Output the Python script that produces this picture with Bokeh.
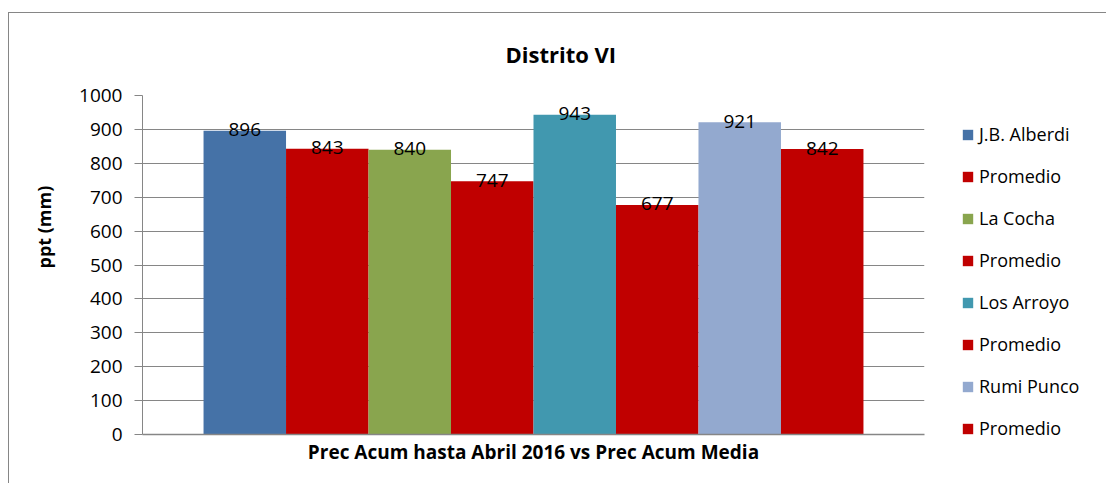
from bokeh.plotting import figure
from bokeh.models import Range1d, Legend, LegendItem, Title, FixedTicker
from bokeh.core.properties import value
from bokeh.embed import file_html
from bokeh.resources import INLINE

chart_title = "Distrito VI"
y_label = "ppt (mm)"
x_label = "Prec Acum hasta Abril 2016 vs Prec Acum Media"
series = ["J.B. Alberdi", "Promedio", "La Cocha", "Promedio",
          "Los Arroyo", "Promedio", "Rumi Punco", "Promedio"]
values = [896, 843, 840, 747, 943, 677, 921, 842]
colors = ["#4572A7", "#C00000", "#89A54E", "#C00000",
          "#4198AF", "#C00000", "#93A9CF", "#C00000"]
y_ticks = [0, 100, 200, 300, 400, 500, 600, 700, 800, 900, 1000]

FONT = "Open Sans"
positions = list(range(len(values)))
gap = 0.74

p = figure(frame_width=782, frame_height=339, output_backend="svg", toolbar_location=None,
           x_range=Range1d(-0.5 - gap, len(values) - 0.5 + gap),
           y_range=Range1d(0, 1000),
           min_border_left=132, min_border_right=175, min_border_top=82,
           min_border_bottom=49, outline_line_color=None)
p.styles = {"border-top": "1px solid #868686", "border-left": "1px solid #868686",
            "margin-top": "12px", "margin-left": "8px"}

items = []
for i, (name, v, c) in enumerate(zip(series, values, colors)):
    r = p.vbar(x=[positions[i]], top=[v], width=1.0, bottom=0,
               fill_color=c, line_color=None)
    items.append(LegendItem(label=name, renderers=[r]))

p.text(x=positions, y=values, text=[str(v) for v in values],
       text_align="center", text_baseline="alphabetic", y_offset=-1,
       text_font=value(FONT), text_font_size="19px", text_color="#000000")

# axes
p.yaxis.ticker = FixedTicker(ticks=y_ticks)
p.yaxis.axis_line_color = "#868686"
p.yaxis.major_tick_line_color = "#868686"
p.yaxis.major_tick_out = 8
p.yaxis.major_tick_in = 0
p.yaxis.minor_tick_line_color = None
p.yaxis.major_label_text_font = FONT
p.yaxis.major_label_text_font_size = "19px"
p.yaxis.major_label_text_color = "#000000"
p.yaxis.major_label_standoff = 12

p.xaxis.ticker = FixedTicker(ticks=[])
p.xaxis.axis_line_color = "#868686"
p.xaxis.axis_line_width = 1.5
p.xaxis.major_tick_line_color = None
p.xaxis.minor_tick_line_color = None
p.xaxis.axis_label = x_label
p.xaxis.axis_label_text_font = FONT
p.xaxis.axis_label_text_font_style = "bold"
p.xaxis.axis_label_text_font_size = "19px"
p.xaxis.axis_label_standoff = 4
p.xaxis.axis_label_text_color = "#000000"

p.xgrid.grid_line_color = None
p.ygrid.grid_line_color = "#868686"
p.ygrid.grid_line_width = 1

ylab = Title(text=y_label, align="left", offset=166, standoff=41,
             text_font=FONT, text_font_style="bold", text_font_size="18px",
             text_color="#000000")
p.add_layout(ylab, "left")

t = Title(text=chart_title, align="left", offset=363, standoff=50,
          vertical_align="top",
          text_font=FONT, text_font_style="bold", text_font_size="22px",
          text_color="#000000")
p.add_layout(t, "above")

legend = Legend(items=items, location=(37, -6), orientation="vertical",
                padding=0, margin=0, spacing=18, label_height=21,
                glyph_height=13, glyph_width=13, label_standoff=5,
                label_text_font=FONT, label_text_font_size="18px",
                label_text_color="#000000", border_line_color=None,
                background_fill_alpha=0)
p.add_layout(legend, "right")

open("out.html", "w").write(file_html(p, INLINE))
